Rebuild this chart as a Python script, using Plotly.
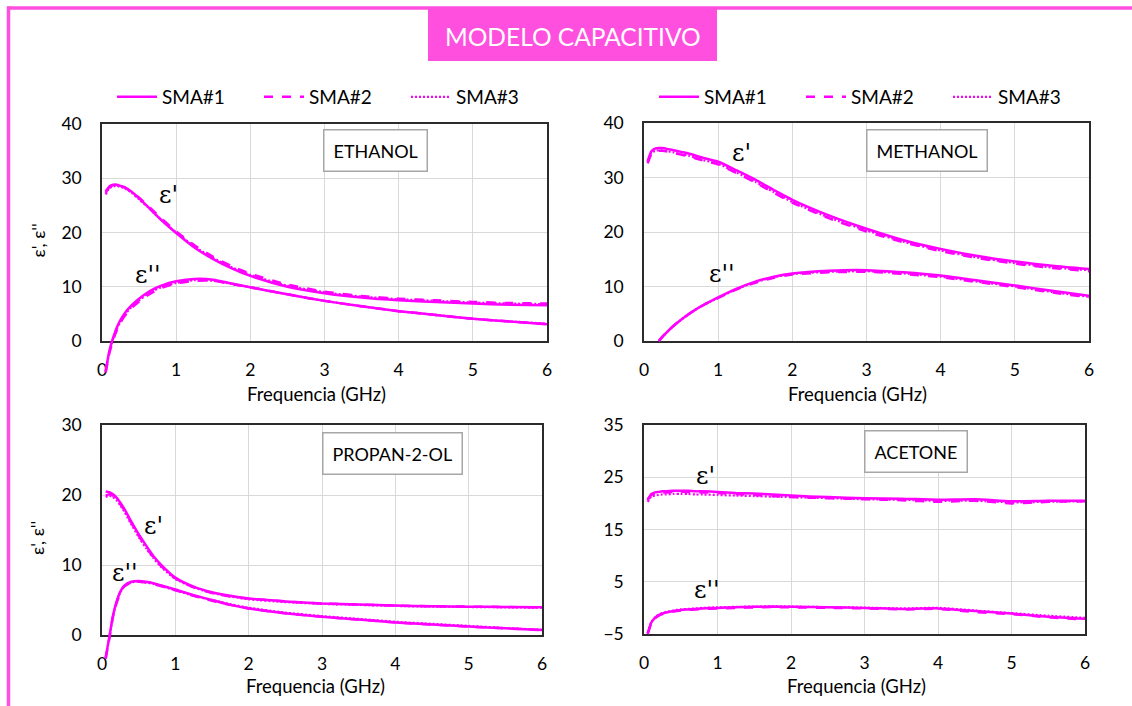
import plotly.graph_objects as go

W, H = 1132, 706

# ---------------- data ----------------
freq = [0.05, 0.1, 0.15, 0.2, 0.25, 0.3, 0.4, 0.5, 0.6, 0.7, 0.8, 1.0,
        1.25, 1.5, 1.75, 2.0, 2.5, 3.0, 3.5, 4.0, 4.5, 5.0, 5.5, 6.0]
series_names = ["SMA#1", "SMA#2", "SMA#3"]
x_ticks = [0, 1, 2, 3, 4, 5, 6]

# ETHANOL
eth_e1_sma1 = [27.3, 28.5, 28.8, 28.8, 28.6, 28.4, 27.5, 26.3, 25.0, 23.6, 22.3, 19.9, 17.2, 15.1, 13.4, 12.0, 10.0, 8.8, 8.0, 7.5, 7.2, 6.9, 6.7, 6.6]
eth_e1_sma2 = [27.6, 28.4, 28.7, 28.7, 28.5, 28.3, 27.5, 26.4, 25.2, 23.9, 22.6, 20.2, 17.6, 15.5, 13.8, 12.4, 10.4, 9.1, 8.3, 7.8, 7.5, 7.2, 7.0, 6.9]
eth_e1_sma3 = [27.0, 28.2, 28.5, 28.6, 28.4, 28.2, 27.3, 26.1, 24.9, 23.6, 22.3, 20.0, 17.4, 15.3, 13.6, 12.2, 10.2, 9.0, 8.2, 7.7, 7.4, 7.1, 6.9, 6.8]
eth_e2_sma1 = [-5.5, -1.8, 0.6, 2.5, 3.9, 5.0, 6.6, 7.8, 8.8, 9.6, 10.2, 11.0, 11.45, 11.3, 10.6, 9.9, 8.6, 7.4, 6.4, 5.5, 4.8, 4.1, 3.6, 3.1]
eth_e2_sma2 = [-5.8, -2.2, 0.2, 2.0, 3.4, 4.5, 6.1, 7.3, 8.3, 9.1, 9.8, 10.6, 11.1, 11.1, 10.5, 9.9, 8.6, 7.4, 6.4, 5.5, 4.8, 4.1, 3.6, 3.1]
eth_e2_sma3 = [-5.6, -2.0, 0.4, 2.2, 3.6, 4.7, 6.3, 7.5, 8.5, 9.3, 9.9, 10.7, 11.2, 11.1, 10.5, 9.9, 8.6, 7.4, 6.4, 5.5, 4.8, 4.1, 3.6, 3.2]

# METHANOL
met_e1_sma1 = [33.0, 34.8, 35.3, 35.4, 35.4, 35.3, 35.0, 34.7, 34.4, 34.0, 33.6, 32.9, 31.3, 29.6, 27.7, 25.9, 23.0, 20.6, 18.5, 16.9, 15.6, 14.6, 13.8, 13.2]
met_e1_sma2 = [32.6, 34.3, 34.8, 34.9, 34.9, 34.8, 34.5, 34.2, 33.9, 33.5, 33.1, 32.4, 30.8, 29.1, 27.2, 25.4, 22.5, 20.1, 18.1, 16.5, 15.2, 14.2, 13.4, 12.8]
met_e1_sma3 = [32.8, 34.5, 34.9, 35.0, 35.0, 34.9, 34.6, 34.3, 34.0, 33.6, 33.2, 32.5, 30.9, 29.2, 27.3, 25.5, 22.6, 20.3, 18.2, 16.6, 15.3, 14.3, 13.5, 13.0]
met_e2_sma1 = [None, None, None, 0.0, 0.8, 1.5, 2.8, 3.9, 4.9, 5.8, 6.6, 8.0, 9.6, 10.9, 11.8, 12.4, 12.9, 13.0, 12.6, 12.0, 11.1, 10.2, 9.2, 8.3]
met_e2_sma2 = [None, None, None, 0.0, 0.8, 1.5, 2.8, 3.9, 4.9, 5.8, 6.6, 7.9, 9.5, 10.7, 11.6, 12.2, 12.6, 12.7, 12.3, 11.7, 10.8, 9.9, 8.9, 8.0]
met_e2_sma3 = [None, None, None, 0.0, 0.8, 1.5, 2.8, 3.9, 4.9, 5.8, 6.6, 7.9, 9.5, 10.8, 11.7, 12.3, 12.7, 12.8, 12.4, 11.8, 10.9, 10.0, 9.0, 8.1]

# PROPAN-2-OL
pro_e1_sma1 = [20.5, 20.4, 20.1, 19.6, 18.9, 18.1, 16.2, 14.4, 12.8, 11.3, 10.1, 8.2, 6.9, 6.1, 5.6, 5.2, 4.8, 4.5, 4.35, 4.2, 4.1, 4.05, 4.0, 3.95]
pro_e1_sma2 = [19.9, 20.1, 19.9, 19.4, 18.7, 17.9, 16.0, 14.2, 12.6, 11.1, 9.9, 8.1, 6.8, 6.0, 5.5, 5.2, 4.8, 4.5, 4.35, 4.2, 4.1, 4.05, 4.0, 3.95]
pro_e1_sma3 = [19.7, 19.9, 19.7, 19.2, 18.5, 17.7, 15.8, 14.0, 12.4, 11.0, 9.8, 8.0, 6.8, 6.0, 5.5, 5.1, 4.7, 4.45, 4.3, 4.15, 4.05, 4.0, 3.95, 3.9]
pro_e2_sma1 = [-3.2, -0.3, 2.8, 4.8, 6.2, 7.0, 7.6, 7.7, 7.6, 7.4, 7.1, 6.5, 5.7, 5.0, 4.3, 3.8, 3.1, 2.6, 2.2, 1.8, 1.5, 1.2, 0.95, 0.7]
pro_e2_sma2 = [-3.4, -0.5, 2.6, 4.6, 6.0, 6.9, 7.5, 7.6, 7.5, 7.3, 7.0, 6.4, 5.6, 4.9, 4.3, 3.8, 3.1, 2.6, 2.2, 1.8, 1.5, 1.2, 0.95, 0.7]
pro_e2_sma3 = [-3.3, -0.4, 2.7, 4.7, 6.1, 6.9, 7.5, 7.6, 7.5, 7.3, 7.0, 6.4, 5.6, 5.0, 4.4, 3.9, 3.2, 2.7, 2.3, 1.9, 1.6, 1.3, 1.0, 0.75]

# ACETONE
ace_e1_sma1 = [20.6, 21.8, 22.1, 22.2, 22.3, 22.3, 22.4, 22.4, 22.4, 22.3, 22.3, 22.2, 22.0, 21.9, 21.7, 21.5, 21.2, 21.0, 20.9, 20.7, 20.8, 20.4, 20.5, 20.5]
ace_e1_sma2 = [20.8, 21.6, 21.9, 22.0, 22.1, 22.1, 22.2, 22.2, 22.2, 22.1, 22.1, 22.0, 21.8, 21.6, 21.4, 21.2, 21.0, 20.8, 20.6, 20.3, 20.5, 20.0, 20.3, 20.4]
ace_e1_sma3 = [20.3, 21.3, 21.5, 21.6, 21.7, 21.7, 21.8, 21.8, 21.8, 21.7, 21.7, 21.6, 21.5, 21.4, 21.3, 21.2, 21.0, 20.8, 20.7, 20.5, 20.5, 20.2, 20.3, 20.4]
ace_e2_sma1 = [-4.9, -2.8, -1.9, -1.4, -1.1, -0.9, -0.6, -0.4, -0.3, -0.2, -0.1, 0.0, 0.1, 0.2, 0.25, 0.2, 0.1, 0.0, -0.2, -0.1, -0.6, -1.1, -1.7, -2.1]
ace_e2_sma2 = [-5.0, -3.0, -2.0, -1.5, -1.2, -1.0, -0.7, -0.5, -0.4, -0.3, -0.2, -0.1, 0.0, 0.1, 0.15, 0.1, 0.0, -0.1, -0.3, -0.2, -0.8, -1.2, -1.8, -2.2]
ace_e2_sma3 = [-4.8, -2.7, -1.8, -1.3, -1.0, -0.8, -0.5, -0.3, -0.2, -0.1, 0.0, 0.1, 0.2, 0.25, 0.3, 0.25, 0.15, 0.05, -0.1, 0.0, -0.5, -1.0, -1.5, -1.9]

# ---------------- styling / layout config ----------------
MAG = "#FF00FF"
FRAME = "#FF4FDF"
FONT = "Lato"
dash_styles = ["solid", "dash", "2px,2px"]
widths = [2.5, 2.5, 2.2]

panels = [
    dict(name="ETHANOL", e1=[eth_e1_sma1, eth_e1_sma2, eth_e1_sma3],
         e2=[eth_e2_sma1, eth_e2_sma2, eth_e2_sma3],
         yr=(0, 40), dt=10, px=(102, 547, 124, 341),
         box=(3.69, 35.2), l1=(0.89, 26.9), l2=(0.62, 12.2),
         legend="legend", ytitle=True, xt=(316, 394)),
    dict(name="METHANOL", e1=[met_e1_sma1, met_e1_sma2, met_e1_sma3],
         e2=[met_e2_sma1, met_e2_sma2, met_e2_sma3],
         yr=(0, 40), dt=10, px=(644, 1089, 123, 341),
         box=(3.82, 34.9), l1=(1.31, 34.5), l2=(1.05, 12.3),
         legend="legend2", ytitle=False, xt=(858, 394)),
    dict(name="PROPAN-2-OL", e1=[pro_e1_sma1, pro_e1_sma2, pro_e1_sma3],
         e2=[pro_e2_sma1, pro_e2_sma2, pro_e2_sma3],
         yr=(0, 30), dt=10, px=(102, 542, 425, 635),
         box=(3.96, 26.0), l1=(0.70, 15.6), l2=(0.31, 8.9),
         legend=None, ytitle=True, xt=(315, 686)),
    dict(name="ACETONE", e1=[ace_e1_sma1, ace_e1_sma2, ace_e1_sma3],
         e2=[ace_e2_sma1, ace_e2_sma2, ace_e2_sma3],
         yr=(-5, 35), dt=10, px=(644, 1085, 425, 634),
         box=(3.7, 29.9), l1=(0.84, 25.2), l2=(0.86, 3.4),
         legend=None, ytitle=False, xt=(856, 686)),
]

fig = go.Figure()
layout = dict(
    width=W, height=H, margin=dict(l=0, r=0, t=0, b=0, autoexpand=False),
    paper_bgcolor="white", plot_bgcolor="rgba(0,0,0,0)",
    font=dict(family=FONT, color="black", size=16),
)
annotations = []
shapes = []
EXT = 36  # px of extra room below each frame so curves can run past it

for i, p in enumerate(panels):
    k = i + 1          # visible frame axes
    d = i + 5          # data axes
    x0, x1, y0, y1 = p["px"]
    ymin, ymax = p["yr"]
    ppu = (y1 - y0) / (ymax - ymin)
    xdom = [x0 / W, x1 / W]
    ydom = [1 - y1 / H, 1 - y0 / H]
    ydom_ext = [1 - (y1 + EXT) / H, 1 - y0 / H]
    layout[f"xaxis{k}"] = dict(
        domain=xdom, range=[0, 6], anchor=f"y{k}", tickvals=x_ticks,
        showgrid=True, gridcolor="#d9d9d9", gridwidth=1,
        showline=True, linecolor="#2b2b2b", linewidth=1.6, mirror=True,
        zeroline=False, ticks="", ticklabelstandoff=12, automargin=False,
        tickfont=dict(size=17.5, family=FONT), fixedrange=True)
    layout[f"yaxis{k}"] = dict(
        domain=ydom, range=[ymin, ymax], anchor=f"x{k}", dtick=p["dt"], tick0=ymin,
        showgrid=True, gridcolor="#d9d9d9", gridwidth=1,
        showline=True, linecolor="#2b2b2b", linewidth=1.6, mirror=True,
        zeroline=False, ticks="", ticklabelstandoff=15, automargin=False,
        tickfont=dict(size=17.5, family=FONT), fixedrange=True)
    layout[f"xaxis{d}"] = dict(domain=xdom, range=[0, 6], anchor=f"y{d}", visible=False,
                               automargin=False, fixedrange=True)
    layout[f"yaxis{d}"] = dict(domain=ydom_ext, range=[ymin - EXT / ppu, ymax],
                               anchor=f"x{d}", visible=False, automargin=False,
                               fixedrange=True)

    for s in range(3):
        for curve, show in ((p["e1"][s], True), (p["e2"][s], False)):
            tr = go.Scatter(
                x=freq, y=curve, mode="lines", name=series_names[s],
                line=dict(color=MAG, width=widths[s], dash=dash_styles[s],
                          shape="spline", smoothing=0.6),
                xaxis=f"x{d}", yaxis=f"y{d}", connectgaps=False,
                showlegend=bool(show and p["legend"]),
                legend=p["legend"] if p["legend"] else "legend",
                hoverinfo="skip")
            fig.add_trace(tr)

    # substance label box
    annotations.append(dict(
        x=p["box"][0], y=p["box"][1], xref=f"x{k}", yref=f"y{k}",
        xanchor="center", yanchor="middle",
        text=p["name"], showarrow=False, font=dict(size=18, family=FONT),
        bgcolor="white", bordercolor="#a6a6a6", borderwidth=1.5, borderpad=9))
    # epsilon labels
    annotations.append(dict(x=p["l1"][0], y=p["l1"][1], xref=f"x{k}", yref=f"y{k}",
                            xanchor="center", yanchor="middle",
                            text="ε'", showarrow=False,
                            font=dict(size=24, family="DejaVu Serif")))
    annotations.append(dict(x=p["l2"][0], y=p["l2"][1], xref=f"x{k}", yref=f"y{k}",
                            xanchor="center", yanchor="middle",
                            text="ε''", showarrow=False,
                            font=dict(size=24, family="DejaVu Serif")))
    # x axis title
    annotations.append(dict(x=p["xt"][0] / W, y=1 - p["xt"][1] / H, xref="paper",
                            yref="paper", xanchor="center", yanchor="middle",
                            text="Frequencia (GHz)", showarrow=False,
                            font=dict(size=18.5, family=FONT)))
    if p["ytitle"]:
        annotations.append(dict(x=37 / W, y=1 - ((y0 + y1) / 2 + 8) / H, xref="paper",
                                yref="paper", xanchor="center", yanchor="middle",
                                text="ε', ε''", textangle=-90,
                                showarrow=False, font=dict(size=18, family=FONT)))

# outer magenta frame and title box
shapes.append(dict(type="line", xref="paper", yref="paper",
                   x0=7 / W, x1=1.0, y0=1 - 8 / H, y1=1 - 8 / H,
                   line=dict(color=FRAME, width=3.5)))
shapes.append(dict(type="line", xref="paper", yref="paper",
                   x0=8.5 / W, x1=8.5 / W, y0=0, y1=1 - 6.5 / H,
                   line=dict(color=FRAME, width=3.5)))
shapes.append(dict(type="rect", xref="paper", yref="paper",
                   x0=428 / W, x1=717 / W, y0=1 - 61 / H, y1=1 - 9 / H,
                   fillcolor=FRAME, line=dict(width=0)))
annotations.append(dict(x=572.5 / W, y=1 - 36 / H, xref="paper", yref="paper",
                        xanchor="center", yanchor="middle",
                        text="MODELO CAPACITIVO", showarrow=False,
                        font=dict(size=24.5, family=FONT, color="white")))

leg_common = dict(orientation="h", xanchor="left", yanchor="middle",
                  y=1 - 97 / H, bgcolor="rgba(0,0,0,0)",
                  font=dict(size=19, family=FONT),
                  entrywidth=92, entrywidthmode="pixels", itemwidth=40,
                  tracegroupgap=0)
layout["legend"] = dict(leg_common, x=112 / W)
layout["legend2"] = dict(leg_common, x=654 / W)
layout["annotations"] = annotations
layout["shapes"] = shapes
fig.update_layout(**layout)

fig.write_html("out.html",
               post_script="document.body.style.margin='0';")
